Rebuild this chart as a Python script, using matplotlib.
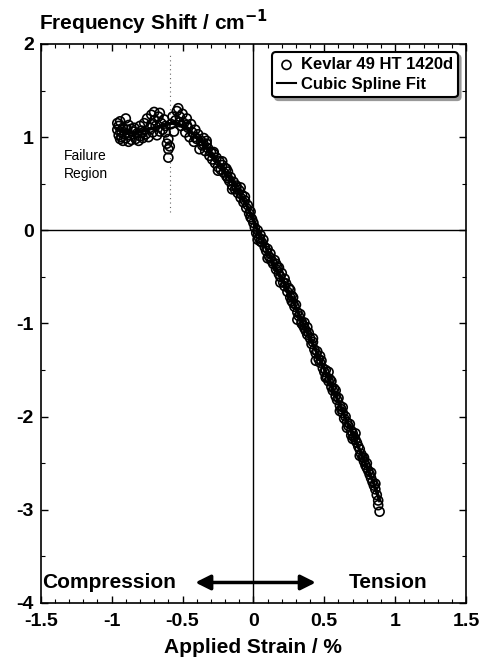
import numpy as np
import matplotlib
matplotlib.use("Agg")
import matplotlib.pyplot as plt
from matplotlib.ticker import MultipleLocator

plt.rcParams['font.family'] = ['Liberation Sans', 'DejaVu Sans']

# compression side (strain < 0)
comp_strain = [-0.96, -0.96, -0.95, -0.95, -0.94, -0.94, -0.93, -0.92, -0.92, -0.91, -0.90, -0.90,
               -0.89, -0.88, -0.88, -0.87, -0.86, -0.85, -0.84, -0.83, -0.82, -0.81, -0.80, -0.80,
               -0.79, -0.78, -0.77, -0.76, -0.75, -0.74, -0.73, -0.72, -0.71, -0.70, -0.70,
               -0.69, -0.68, -0.67, -0.66, -0.65, -0.64, -0.63, -0.62, -0.61, -0.60, -0.60, -0.60, -0.59, -0.58, -0.57,
               -0.56, -0.55, -0.54, -0.53, -0.52, -0.51, -0.50, -0.49, -0.48, -0.47, -0.46, -0.45,
               -0.44, -0.43, -0.42, -0.41, -0.40, -0.39, -0.38, -0.37, -0.36, -0.35, -0.34, -0.33, -0.32, -0.31, -0.30,
               -0.29, -0.28, -0.27, -0.26, -0.25, -0.24, -0.23, -0.22, -0.21, -0.20, -0.19, -0.18, -0.17, -0.16, -0.15,
               -0.14, -0.13, -0.12, -0.11, -0.10, -0.09, -0.08, -0.07, -0.06, -0.05, -0.04, -0.03, -0.02, -0.01, 0.00,
               -0.93, -0.86, -0.78, -0.72, -0.66, -0.62, -0.52, -0.47, -0.41, -0.35, -0.28, -0.22, -0.18, -0.12, -0.06,
               -0.33, -0.25, -0.19, -0.15, -0.09, -0.02]
comp_shift = [1.15, 1.08, 1.12, 1.02, 1.17, 0.98, 1.05, 1.10, 0.96, 1.03, 1.20, 0.99,
              1.08, 0.95, 1.13, 1.02, 0.97, 1.06, 1.10, 0.98, 1.04, 0.96, 1.12, 1.01,
              1.07, 0.99, 1.15, 1.03, 1.20, 1.00, 1.10, 1.24, 1.05, 1.18, 1.27,
              1.12, 1.02, 1.22, 1.26, 1.15, 1.08, 1.19, 1.05, 0.93, 0.87, 0.78, 0.98, 0.90, 1.14, 1.22,
              1.06, 1.18, 1.28, 1.31, 1.22, 1.12, 1.25, 1.15, 1.05, 1.20, 1.10, 1.00,
              1.14, 1.05, 0.95, 1.08, 0.98, 1.03, 0.87, 0.96, 0.91, 0.99, 0.85, 0.93, 0.88, 0.80, 0.84,
              0.76, 0.82, 0.72, 0.78, 0.68, 0.74, 0.65, 0.70, 0.62, 0.67, 0.58, 0.63, 0.53, 0.57, 0.48,
              0.52, 0.44, 0.48, 0.40, 0.43, 0.35, 0.38, 0.30, 0.32, 0.24, 0.27, 0.18, 0.20, 0.12, 0.08,
              1.00, 1.09, 1.05, 1.14, 1.06, 1.12, 1.16, 1.13, 1.00, 0.92, 0.84, 0.74, 0.56, 0.46, 0.36,
              0.96, 0.64, 0.66, 0.44, 0.46, 0.14]

# tension side (strain > 0)
tens_strain = [0.01, 0.02, 0.03, 0.04, 0.05, 0.06, 0.07, 0.08, 0.09, 0.10,
               0.11, 0.12, 0.13, 0.14, 0.15, 0.16, 0.17, 0.18, 0.19, 0.20,
               0.21, 0.22, 0.23, 0.24, 0.25, 0.26, 0.27, 0.28, 0.29, 0.30,
               0.31, 0.32, 0.33, 0.34, 0.35, 0.36, 0.37, 0.38, 0.39, 0.40,
               0.41, 0.42, 0.43, 0.44, 0.45, 0.46, 0.47, 0.48, 0.49, 0.50,
               0.51, 0.52, 0.53, 0.54, 0.55, 0.56, 0.57, 0.58, 0.59, 0.60,
               0.61, 0.62, 0.63, 0.64, 0.65, 0.66, 0.67, 0.68, 0.69, 0.70,
               0.71, 0.72, 0.73, 0.74, 0.75, 0.76, 0.77, 0.78, 0.79, 0.80,
               0.81, 0.82, 0.83, 0.84, 0.85, 0.86, 0.87, 0.88, 0.88, 0.89,
               0.05, 0.16, 0.22, 0.28, 0.31, 0.38, 0.47, 0.55, 0.66, 0.72, 0.75, 0.83,
               0.03, 0.12, 0.19, 0.26, 0.34, 0.42, 0.51, 0.58, 0.63, 0.69, 0.78, 0.86,
               0.10, 0.18, 0.27, 0.36, 0.44, 0.53, 0.61, 0.70, 0.80]
tens_shift = [0.03, -0.03, 0.00, -0.08, -0.05, -0.13, -0.10, -0.18, -0.22, -0.20,
              -0.28, -0.25, -0.33, -0.36, -0.32, -0.42, -0.40, -0.47, -0.50, -0.46,
              -0.56, -0.60, -0.57, -0.66, -0.62, -0.72, -0.70, -0.78, -0.82, -0.80,
              -0.88, -0.92, -0.90, -0.98, -1.02, -0.99, -1.08, -1.12, -1.10, -1.16,
              -1.22, -1.20, -1.28, -1.32, -1.30, -1.38, -1.42, -1.40, -1.48, -1.52,
              -1.50, -1.58, -1.62, -1.60, -1.68, -1.72, -1.70, -1.78, -1.82, -1.80,
              -1.88, -1.92, -1.96, -2.02, -2.00, -2.06, -2.10, -2.08, -2.15, -2.18,
              -2.22, -2.25, -2.28, -2.32, -2.35, -2.40, -2.44, -2.48, -2.52, -2.55,
              -2.58, -2.62, -2.66, -2.70, -2.74, -2.78, -2.84, -2.90, -2.95, -3.02,
              -0.12, -0.36, -0.52, -0.72, -0.96, -1.04, -1.35, -1.62, -2.12, -2.18, -2.42, -2.60,
              -0.10, -0.30, -0.56, -0.64, -1.00, -1.16, -1.58, -1.72, -1.90, -2.20, -2.44, -2.72,
              -0.30, -0.40, -0.76, -1.05, -1.40, -1.52, -1.94, -2.24, -2.50]

# cubic spline fit (knots)
spline_x = [-0.96, -0.85, -0.75, -0.65, -0.55, -0.45, -0.35, -0.25, -0.15, -0.05,
            0.05, 0.15, 0.25, 0.35, 0.45, 0.55, 0.65, 0.75, 0.85, 0.89]
spline_y = [1.08, 1.04, 1.08, 1.12, 1.16, 1.07, 0.93, 0.73, 0.52, 0.28,
            -0.07, -0.38, -0.66, -1.00, -1.32, -1.66, -2.02, -2.36, -2.72, -2.90]

failure_strain = -0.59

x_ticks = [-1.5, -1, -0.5, 0, 0.5, 1, 1.5]
x_labels = ['-1.5', '-1', '-0.5', '0', '0.5', '1', '1.5']
y_ticks = [-4, -3, -2, -1, 0, 1, 2]
y_labels = ['-4', '-3', '-2', '-1', '0', '1', '2']

fig = plt.figure(figsize=(4.83, 6.64), dpi=100)
ax = fig.add_axes([0.0843, 0.0919, 0.8807, 0.8419])

ax.axhline(0, color='black', lw=1.0, zorder=1)
ax.axvline(0, color='black', lw=1.0, zorder=1)
ax.plot([failure_strain, failure_strain], [0.2, 1.9], color='0.4', lw=0.8, ls=(0, (1, 3)), zorder=1)

strain = comp_strain + tens_strain
shift = comp_shift + tens_shift
ax.plot(spline_x, spline_y, color='black', lw=2.5, zorder=2, label='Cubic Spline Fit')
ax.scatter(strain, shift, s=42, facecolors='none', edgecolors='black', linewidths=1.2, zorder=3,
           label='Kevlar 49 HT 1420d')

ax.set_xlim(-1.5, 1.5)
ax.set_ylim(-4, 2)
ax.set_xticks(x_ticks, x_labels)
ax.set_yticks(y_ticks, y_labels)
ax.xaxis.set_minor_locator(MultipleLocator(0.1))
ax.yaxis.set_minor_locator(MultipleLocator(0.5))
ax.tick_params(which='both', direction='in', top=True, right=True)
ax.tick_params(which='major', length=5, width=1, labelsize=14)
ax.tick_params(which='minor', length=3, width=0.8)
ax.tick_params(axis='x', pad=7)
ax.tick_params(axis='y', pad=5)
for lab in ax.get_xticklabels() + ax.get_yticklabels():
    lab.set_fontweight('bold')
for sp in ax.spines.values():
    sp.set_linewidth(1.2)

ax.set_xlabel('Applied Strain / %', fontsize=15, fontweight='bold', labelpad=6)
fig.text(0.081, 0.967, 'Frequency Shift / cm$^{\\mathbf{-1}}$', fontsize=15, fontweight='bold',
         ha='left', va='center')

ax.text(-1.34, 0.70, 'Failure\nRegion', fontsize=10, ha='left', va='center', linespacing=1.35)

ax.text(-1.49, -3.78, 'Compression', fontsize=15, fontweight='bold', ha='left', va='center')
ax.text(0.95, -3.78, 'Tension', fontsize=15, fontweight='bold', ha='center', va='center')
ax.annotate('', xy=(-0.41, -3.78), xytext=(0.44, -3.78),
            arrowprops=dict(arrowstyle='<|-|>,head_length=0.9,head_width=0.45', lw=2.5,
                            color='black', shrinkA=0, shrinkB=0))

handles, labels = ax.get_legend_handles_labels()
leg = ax.legend(handles[::-1], labels[::-1], loc='upper right',
                prop={'weight': 'bold', 'size': 12}, fancybox=True,
                shadow={'facecolor': '0.6', 'edgecolor': '0.6', 'alpha': 1.0},
                handlelength=1.1, handletextpad=0.3, borderpad=0.3, labelspacing=0.3,
                borderaxespad=0.5, framealpha=1, edgecolor='black', scatterpoints=1)
leg.get_frame().set_linewidth(1.5)
for line in leg.get_lines():
    line.set_linewidth(1.5)

fig.savefig('out.png', dpi=100)
